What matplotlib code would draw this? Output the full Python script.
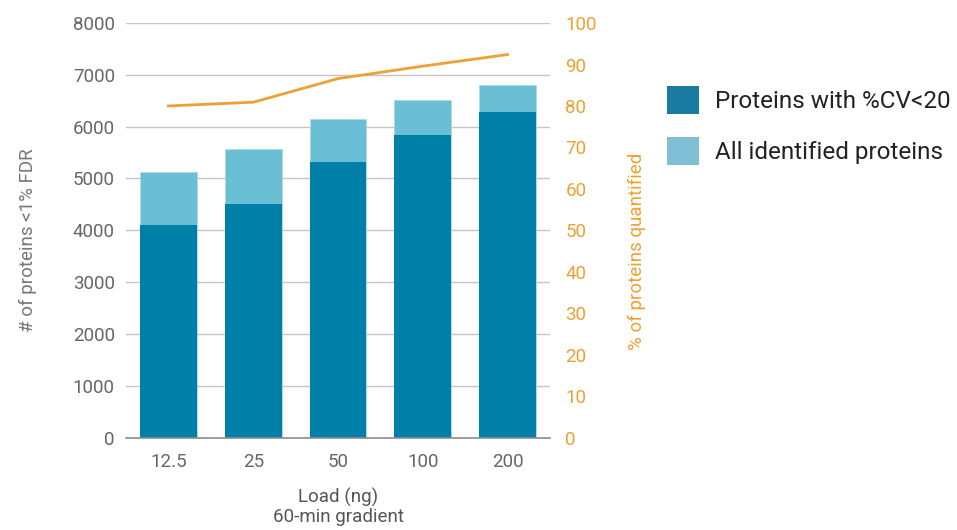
import matplotlib.pyplot as plt
import numpy as np
from matplotlib.patches import Patch

plt.rcParams['font.family'] = ['Roboto', 'DejaVu Sans']

loads = ["12.5", "25", "50", "100", "200"]
all_identified = [5130, 5570, 6140, 6510, 6800]
cv_below_20 = [4100, 4510, 5320, 5830, 6290]
pct_quantified = [80.0, 80.9, 86.6, 89.6, 92.4]

dark_blue = "#007fa8"
light_blue = "#6bbfd4"
orange = "#f0a030"

fig = plt.figure(figsize=(9.57, 5.30), dpi=100)
ax = fig.add_axes([0.1317, 0.1745, 0.443, 0.782])

x = np.arange(len(loads))
ax.bar(x, all_identified, width=0.67, color=light_blue, edgecolor="#a8dbe8", linewidth=0.6, zorder=2)
ax.bar(x, cv_below_20, width=0.67, color=dark_blue, zorder=3)

ax.set_xlim(-0.5, len(loads) - 0.5)
ax.set_ylim(0, 8000)
ax.set_yticks(range(0, 8001, 1000))
ax.grid(axis="y", color="#c4c4c4", linewidth=1, zorder=0)
ax.set_axisbelow(True)
for s in ["top", "right", "left"]:
    ax.spines[s].set_visible(False)
ax.spines["bottom"].set_color("#8c8c8c")
ax.spines["bottom"].set_linewidth(1.2)
ax.spines["bottom"].set_zorder(4)
ax.set_xticks(x)
ax.set_xticklabels(loads)
ax.tick_params(axis="x", length=0, pad=11, labelsize=13.5, labelcolor="#666666")
ax.tick_params(axis="y", length=0, pad=8, labelsize=13.5, labelcolor="#666666")
ax.set_ylabel("# of proteins <1% FDR", fontsize=13.5, color="#777777")
ax.yaxis.set_label_coords(-0.21, 0.475)
ax.set_xlabel("Load (ng)\n60-min gradient", fontsize=13.5, color="#555555", labelpad=12, linespacing=1.1)

ax2 = ax.twinx()
ax2.plot(x, pct_quantified, color=orange, linewidth=2, zorder=5)
ax2.set_ylim(0, 100)
ax2.set_yticks(range(0, 101, 10))
for s in ax2.spines.values():
    s.set_visible(False)
ax2.tick_params(axis="y", length=0, pad=11, labelsize=13.5, labelcolor=orange)
ax2.set_ylabel("% of proteins quantified", fontsize=13.5, color=orange)
ax2.yaxis.set_label_coords(1.184, 0.45)

handles = [Patch(facecolor="#1a7ba0", label="Proteins with %CV<20"),
           Patch(facecolor="#80bfd3", label="All identified proteins")]
fig.legend(handles=handles, loc="upper left", bbox_to_anchor=(0.697, 0.838),
           frameon=False, fontsize=17.5, handlelength=1.3, handleheight=1.4,
           handletextpad=0.66, labelspacing=0.95, borderaxespad=0, borderpad=0,
           labelcolor="#222222")

fig.savefig("out.png", dpi=100)
